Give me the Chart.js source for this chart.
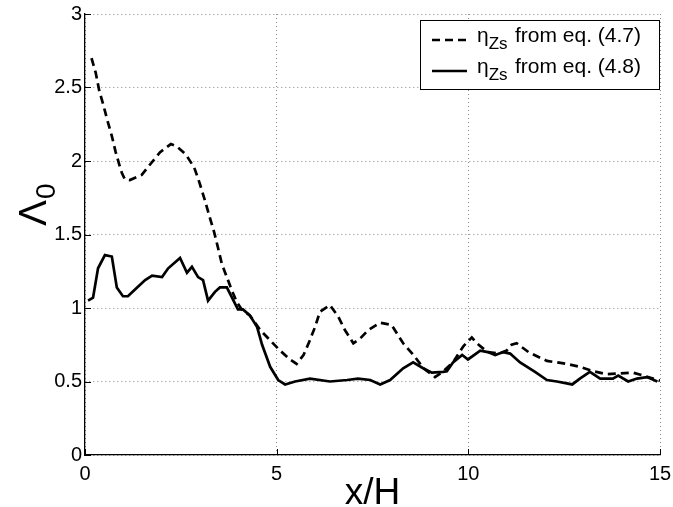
<!DOCTYPE html>
<html><head><meta charset="utf-8">
<script src="https://cdn.jsdelivr.net/npm/chart.js@4/dist/chart.umd.min.js"></script>
<style>html,body{margin:0;padding:0;background:#fff;}#wrap{width:673px;height:507px;}</style>
</head><body><div id="wrap"><canvas id="c" width="673" height="507"></canvas></div>
<script>
const xTicks = [0, 5, 10, 15];
const yTicks = [0, 0.5, 1, 1.5, 2, 2.5, 3];
const xTitle = 'x/H';
const yTitleMain = 'Λ';
const yTitleSub = '0';
const legendSym = 'η';
const legendSub = 'Zs';
const legendText = ['from eq. (4.7)', 'from eq. (4.8)'];

const xDashed = [0.17,0.28,0.37,0.48,0.58,0.70,0.80,0.90,0.96,1.04,1.17,1.48,1.74,1.96,2.24,2.39,2.63,2.85,2.99,3.13,3.25,3.37,3.46,3.57,3.70,3.83,3.96,4.09,4.30,4.57,4.83,5.09,5.35,5.52,5.70,5.85,6.00,6.13,6.39,6.61,6.78,7.00,7.17,7.39,7.70,8.00,8.13,8.30,8.57,8.83,9.13,9.35,9.60,9.87,10.09,10.22,10.50,10.80,11.00,11.13,11.26,11.57,12.05,12.57,12.91,13.26,13.61,13.96,14.30,14.57,15.00];
const yDashed = [2.70,2.60,2.48,2.38,2.28,2.17,2.06,1.97,1.92,1.875,1.87,1.905,1.99,2.06,2.115,2.10,2.045,1.955,1.85,1.73,1.62,1.515,1.42,1.30,1.21,1.12,1.04,0.99,0.95,0.85,0.78,0.71,0.65,0.62,0.68,0.77,0.87,0.975,1.02,0.94,0.85,0.76,0.79,0.85,0.90,0.885,0.83,0.76,0.68,0.59,0.53,0.57,0.63,0.74,0.80,0.76,0.70,0.69,0.71,0.75,0.76,0.70,0.64,0.62,0.60,0.57,0.55,0.555,0.56,0.54,0.505];

const xSolid = [0.08,0.21,0.34,0.52,0.70,0.83,0.99,1.12,1.36,1.57,1.75,2.01,2.17,2.48,2.66,2.79,2.95,3.08,3.21,3.39,3.52,3.70,3.99,4.12,4.30,4.49,4.62,4.83,5.04,5.22,5.48,5.87,6.39,6.84,7.12,7.44,7.70,7.96,8.30,8.56,8.82,9.05,9.34,9.44,9.60,9.84,9.99,10.31,10.51,10.70,10.91,11.09,11.35,11.74,12.05,12.31,12.71,12.91,13.17,13.44,13.77,13.91,14.17,14.40,14.66,14.93];
const ySolid = [1.05,1.07,1.27,1.36,1.35,1.14,1.08,1.08,1.14,1.19,1.22,1.21,1.27,1.34,1.24,1.28,1.21,1.19,1.05,1.11,1.14,1.14,0.99,0.99,0.95,0.87,0.75,0.60,0.51,0.48,0.50,0.52,0.50,0.51,0.52,0.51,0.48,0.51,0.59,0.63,0.59,0.56,0.565,0.57,0.63,0.68,0.65,0.71,0.70,0.68,0.70,0.69,0.63,0.565,0.51,0.50,0.48,0.52,0.565,0.52,0.52,0.54,0.50,0.52,0.53,0.50];

const FONT = '"Liberation Sans", Arial, Helvetica, sans-serif';
const toPts = (xs, ys) => xs.map((x, i) => ({x: x, y: ys[i]}));

const decor = {
  id: 'decor',
  afterDraw(chart) {
    const ctx = chart.ctx;
    const xs = chart.scales.x, ys = chart.scales.y;
    const area = chart.chartArea;
    ctx.save();
    // inward tick marks
    ctx.strokeStyle = '#000';
    ctx.lineWidth = 1;
    ctx.beginPath();
    xTicks.forEach(v => {
      const px = Math.round(xs.getPixelForValue(v)) + 0.5;
      ctx.moveTo(px, area.bottom); ctx.lineTo(px, area.bottom - 6);
    });
    yTicks.forEach(v => {
      const py = Math.round(ys.getPixelForValue(v)) + 0.5;
      ctx.moveTo(area.left, py); ctx.lineTo(area.left + 6, py);
    });
    ctx.stroke();
    // x title
    ctx.fillStyle = '#000';
    ctx.font = '37px ' + FONT;
    ctx.textAlign = 'center';
    ctx.textBaseline = 'alphabetic';
    ctx.fillText(xTitle, (area.left + area.right) / 2, 504);
    // y title rotated
    ctx.save();
    ctx.translate(46, 226);
    ctx.rotate(-Math.PI / 2);
    ctx.textAlign = 'left';
    ctx.font = '39px ' + FONT;
    ctx.fillText(yTitleMain, 0, 0);
    const w = ctx.measureText(yTitleMain).width;
    ctx.font = '28px ' + FONT;
    ctx.fillText(yTitleSub, w + 1, 9);
    ctx.restore();
    // legend
    const bx = 420, by = 20, bw = 239, bh = 69;
    ctx.fillStyle = '#fff';
    ctx.fillRect(bx, by, bw, bh);
    ctx.strokeStyle = '#000';
    ctx.lineWidth = 1;
    ctx.strokeRect(bx + 0.5, by + 0.5, bw, bh);
    const rows = [{y: 40, dash: [8, 5]}, {y: 71, dash: []}];
    rows.forEach((r, i) => {
      ctx.save();
      ctx.lineWidth = 2.7;
      ctx.setLineDash(r.dash);
      ctx.beginPath();
      ctx.moveTo(432, r.y); ctx.lineTo(467, r.y);
      ctx.stroke();
      ctx.restore();
      const base = r.y + 2;
      ctx.fillStyle = '#000';
      ctx.textAlign = 'left';
      ctx.font = '21px ' + FONT;
      ctx.fillText(legendSym, 477, base);
      const ew = ctx.measureText(legendSym).width;
      ctx.font = '17px ' + FONT;
      ctx.fillText(legendSub, 477 + ew, base + 7);
      ctx.font = '21px ' + FONT;
      ctx.fillText(legendText[i], 515, base);
    });
    ctx.restore();
  }
};

new Chart(document.getElementById('c'), {
  type: 'line',
  data: {
    datasets: [
      {label: 'dashed', data: toPts(xDashed, yDashed), borderColor: '#000', borderWidth: 2.7, borderDash: [8, 5], pointRadius: 0, fill: false, tension: 0},
      {label: 'solid', data: toPts(xSolid, ySolid), borderColor: '#000', borderWidth: 2.7, pointRadius: 0, fill: false, tension: 0}
    ]
  },
  options: {
    responsive: false,
    devicePixelRatio: 1,
    animation: false,
    layout: {padding: {left: 0, right: 13, top: 14, bottom: 0}},
    plugins: {legend: {display: false}, tooltip: {enabled: false}},
    scales: {
      x: {
        type: 'linear', min: 0, max: 15,
        afterBuildTicks: s => { s.ticks = xTicks.map(v => ({value: v})); },
        afterFit: s => { s.height = 52; s.paddingLeft = 0; s.paddingRight = 0; },
        ticks: {color: '#000', font: {family: FONT, size: 20}, padding: 7, maxRotation: 0, autoSkip: false, callback: v => String(v)},
        grid: {color: '#8a8a8a', lineWidth: 1, drawTicks: false},
        border: {display: true, color: '#000', width: 1.3, dash: [1, 3]}
      },
      y: {
        type: 'linear', min: 0, max: 3,
        afterBuildTicks: s => { s.ticks = yTicks.map(v => ({value: v})); },
        afterFit: s => { s.width = 85; s.paddingTop = 0; s.paddingBottom = 0; },
        ticks: {color: '#000', font: {family: FONT, size: 20}, padding: 3, autoSkip: false, callback: v => String(v)},
        grid: {color: '#8a8a8a', lineWidth: 1, drawTicks: false},
        border: {display: true, color: '#000', width: 1.3, dash: [1, 3]}
      }
    }
  },
  plugins: [decor]
});
</script>
</body></html>
